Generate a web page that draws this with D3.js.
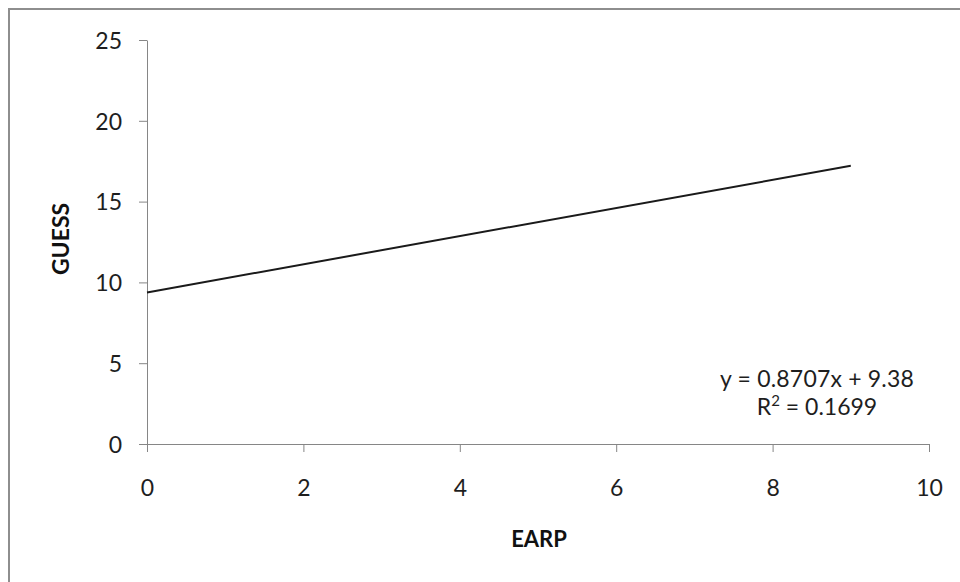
<!DOCTYPE html>
<html>
<head>
<meta charset="utf-8">
<script src="https://cdn.jsdelivr.net/npm/d3@7"></script>
<style>
  html, body { margin: 0; padding: 0; background: #fff; }
  svg { display: block; }
</style>
</head>
<body>
<svg id="chart" width="960" height="582"></svg>
<script>
// Data
const xTicks = [0, 2, 4, 6, 8, 10];
const yTicks = [0, 5, 10, 15, 20, 25];
const trendX = [0, 9];
const slope = 0.8707;
const intercept = 9.38;
const rSquared = "0.1699";
const xTitle = "EARP";
const yTitle = "GUESS";

(function () {
const svg = d3.select("#chart");
const W = 960, H = 582;
const pLeft = 147, pRight = 929, pTop = 40, pBottom = 444;

svg.append("rect").attr("x", 0).attr("y", 0).attr("width", W).attr("height", H).attr("fill", "#fff");
// outer chart border (cropped on right/bottom)
svg.append("rect").attr("x", 9).attr("y", 9).attr("width", W + 20).attr("height", H + 20)
  .attr("fill", "none").attr("stroke", "#8e8e8e").attr("stroke-width", 2);

const x = d3.scaleLinear().domain([0, 10]).range([pLeft, pRight]);
const y = d3.scaleLinear().domain([0, 25]).range([pBottom, pTop]);

const font = "Lato, 'Open Sans', sans-serif";

const xAxis = svg.append("g").attr("transform", `translate(0,${pBottom})`)
  .call(d3.axisBottom(x).tickValues(xTicks).tickSize(8).tickSizeOuter(0).tickPadding(30));
const yAxis = svg.append("g").attr("transform", `translate(${pLeft},0)`)
  .call(d3.axisLeft(y).tickValues(yTicks).tickSize(8).tickSizeOuter(0).tickPadding(17));

[xAxis, yAxis].forEach(g => {
  g.select(".domain").attr("stroke", "#868686").attr("stroke-width", 1);
  g.selectAll(".tick line").attr("stroke", "#868686").attr("stroke-width", 1);
  g.selectAll(".tick text").attr("fill", "#1e1e1e").style("font-family", font).style("font-size", "23px");
});
xAxis.selectAll(".tick text").attr("dy", null).attr("y", 51.5);
yAxis.selectAll(".tick text").attr("dy", "0.36em");

// trendline
const line = d3.line().x(d => x(d)).y(d => y(slope * d + intercept));
svg.append("path").datum(trendX).attr("d", line)
  .attr("fill", "none").attr("stroke", "#1a1a1a").attr("stroke-width", 2);

// equation
const eq = svg.append("g").style("font-family", font).style("font-size", "23px").attr("fill", "#1e1e1e");
eq.append("text").attr("x", 817).attr("y", 387).attr("text-anchor", "middle")
  .style("letter-spacing", "0.2px")
  .text(`y = ${slope}x + ${intercept}`);
const r2 = eq.append("text").attr("x", 817).attr("y", 415).attr("text-anchor", "middle");
r2.append("tspan").text("R");
r2.append("tspan").attr("dy", -9).style("font-size", "15px").text("2");
r2.append("tspan").attr("dy", 9).text(` = ${rSquared}`);

// axis titles
svg.append("text").attr("x", (pLeft + pRight) / 2 + 1).attr("y", 547).attr("text-anchor", "middle")
  .style("font-family", font).style("font-size", "22px").style("font-weight", "bold").attr("fill", "#111")
  .text(xTitle);
svg.append("text").attr("transform", `translate(69,${(pTop + pBottom) / 2 - 3}) rotate(-90)`)
  .attr("text-anchor", "middle")
  .style("font-family", font).style("font-size", "23px").style("font-weight", "bold").attr("fill", "#111")
  .text(yTitle);
})();
</script>
</body>
</html>
